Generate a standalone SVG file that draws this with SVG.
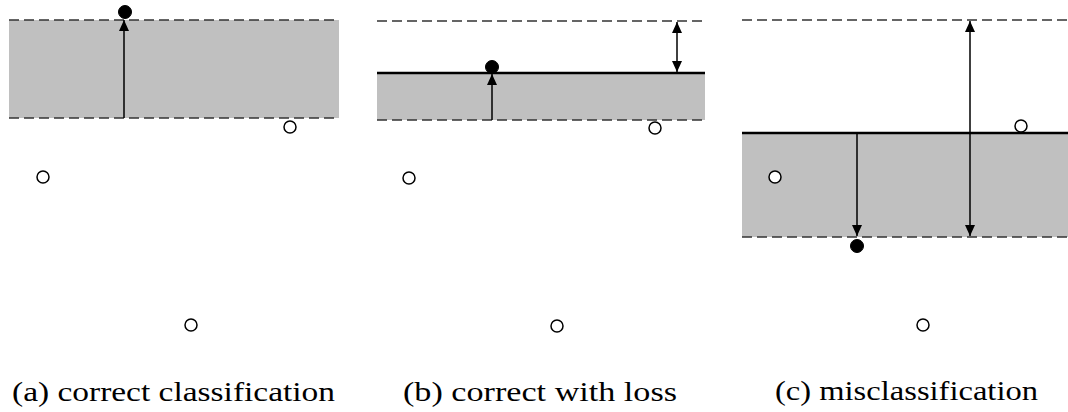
<svg xmlns="http://www.w3.org/2000/svg" width="1068" height="412" viewBox="0 0 1068 412">
<style>
.band{fill:#c0c0c0;stroke:none}
.dash{stroke:#333;stroke-width:1.5;stroke-dasharray:10 5;fill:none}
.solid{stroke:#000;stroke-width:2.6;fill:none}
.arr{stroke:#000;stroke-width:1.5;fill:none}
.pos{fill:#000;stroke:#000;stroke-width:1}
.neg{fill:#fff;stroke:#000;stroke-width:1.5}
.cap{font-family:"Liberation Serif","DejaVu Serif",serif;font-size:28px;fill:#000}
</style>
<defs>
<marker id="ah" viewBox="0 0 11 11" refX="11" refY="5.5" markerWidth="11" markerHeight="11" markerUnits="userSpaceOnUse" orient="auto-start-reverse">
<path d="M0,0.5 L11,5.5 L0,10.5 Z" fill="#000"/>
</marker>
</defs>
<g id="panel-a">
<rect class="band" x="9" y="20" width="330" height="98"/>
<line class="dash" x1="9" y1="20" x2="339" y2="20"/>
<line class="dash" x1="9" y1="118" x2="339" y2="118"/>
<circle class="pos" cx="125" cy="12" r="6.5"/>
<circle class="neg" cx="290" cy="127" r="6"/>
<circle class="neg" cx="43" cy="177" r="6"/>
<circle class="neg" cx="191" cy="325" r="6"/>
<text class="cap" x="12" y="401" textLength="323" lengthAdjust="spacingAndGlyphs">(a) correct classification</text>
</g>
<g id="panel-b">
<rect class="band" x="377" y="73" width="328" height="47"/>
<line class="dash" x1="377" y1="21" x2="705" y2="21"/>
<line class="dash" x1="377" y1="120" x2="705" y2="120"/>
<line class="solid" x1="377" y1="73" x2="705" y2="73"/>
<circle class="pos" cx="492" cy="67" r="6.5"/>
<circle class="neg" cx="655" cy="128" r="6"/>
<circle class="neg" cx="409" cy="178" r="6"/>
<circle class="neg" cx="557" cy="326" r="6"/>
<text class="cap" x="403" y="401" textLength="274" lengthAdjust="spacingAndGlyphs">(b) correct with loss</text>
</g>
<g id="panel-c">
<rect class="band" x="742" y="133" width="326" height="104"/>
<line class="dash" x1="742" y1="20" x2="1068" y2="20"/>
<line class="dash" x1="742" y1="237" x2="1068" y2="237"/>
<line class="solid" x1="742" y1="133" x2="1068" y2="133"/>
<circle class="pos" cx="857" cy="246" r="6.5"/>
<circle class="neg" cx="1021" cy="126" r="6"/>
<circle class="neg" cx="775" cy="177" r="6"/>
<circle class="neg" cx="923" cy="325" r="6"/>
<text class="cap" x="775" y="400" textLength="263" lengthAdjust="spacingAndGlyphs">(c) misclassification</text>
</g>
<g id="connectors">
<line class="arr" x1="124" y1="118" x2="124" y2="20" marker-end="url(#ah)"/>
<line class="arr" x1="492" y1="120" x2="492" y2="74" marker-end="url(#ah)"/>
<line class="arr" x1="677" y1="22" x2="677" y2="72" marker-start="url(#ah)" marker-end="url(#ah)"/>
<line class="arr" x1="857" y1="134" x2="857" y2="236" marker-end="url(#ah)"/>
<line class="arr" x1="970" y1="21" x2="970" y2="236" marker-start="url(#ah)" marker-end="url(#ah)"/>
</g>
</svg>
